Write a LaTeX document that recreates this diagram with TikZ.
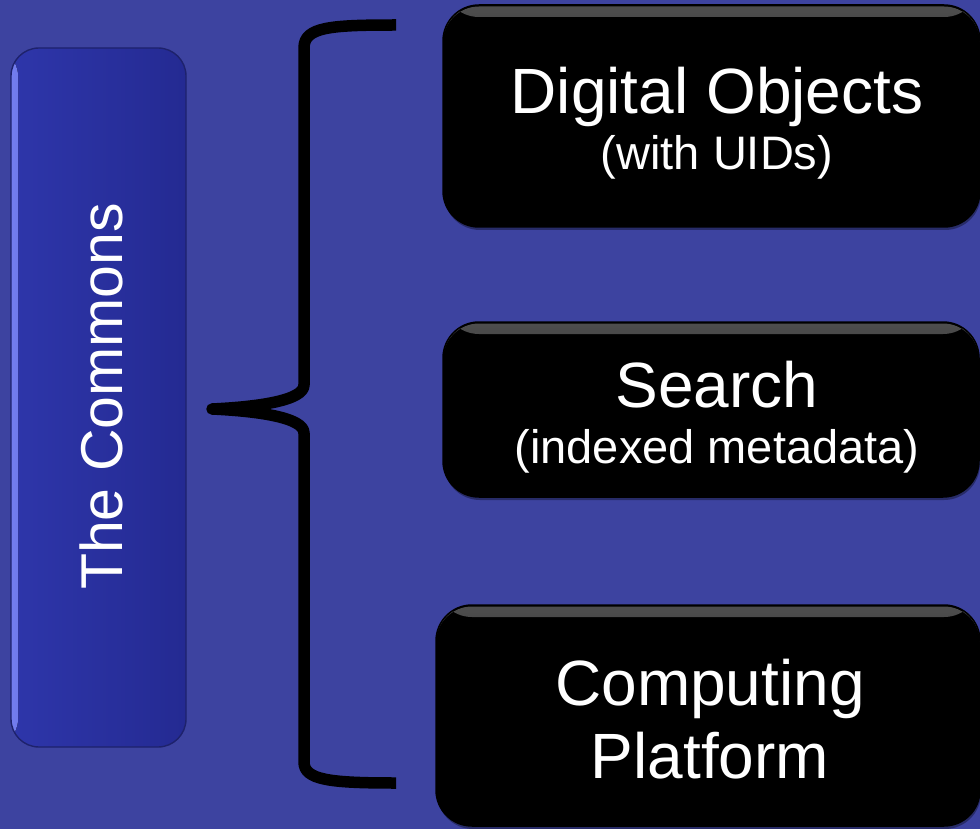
\documentclass[tikz,border=0pt]{standalone}
\usepackage{fontspec}
\setmainfont{Liberation Sans}
\usetikzlibrary{shadows}
\definecolor{bg}{RGB}{61,67,160}
\definecolor{cboxL}{RGB}{46,54,170}
\definecolor{cboxR}{RGB}{36,42,146}
\definecolor{cedge}{RGB}{30,34,108}
\definecolor{chi}{RGB}{115,125,238}
\definecolor{cgray}{RGB}{78,78,78}
\begin{document}
\begin{tikzpicture}[x=1pt,y=-1pt,
  sidebox/.style={rectangle, rounded corners=28pt, left color=cboxL, right color=cboxR,
    draw=cedge, line width=1.4pt, inner sep=0pt,
    path picture={\fill[left color=chi, right color=cboxL]
      (path picture bounding box.north west) rectangle ([xshift=7pt]path picture bounding box.south west);}},
  blackbox/.style={rectangle, rounded corners=36pt, fill=black, draw=black, line width=1.5pt, inner sep=0pt,
    drop shadow={shadow xshift=1pt, shadow yshift=-3pt, fill=black, opacity=.35},
    path picture={\fill[top color=cgray, bottom color=black]
      ([yshift=-1.5pt]path picture bounding box.north west) rectangle ([yshift=-12pt]path picture bounding box.north east);}},
  bigtxt/.style={text=white, font=\fontsize{64}{72}\selectfont, anchor=base, inner sep=0pt},
  smalltxt/.style={text=white, font=\fontsize{47}{54}\selectfont, anchor=base, inner sep=0pt},
  bracestyle/.style={line width=11.5pt, line join=round, line cap=butt, draw=black}
]
\fill[bg] (0,0) rectangle (980,829);
\useasboundingbox (0,0) rectangle (980,829);

% left box
\node[sidebox, minimum width=175pt, minimum height=699pt] (commons) at (98.5,397.5) {};
\node[text=white, font=\fontsize{59}{66}\selectfont, rotate=90, anchor=base, inner sep=0pt]
  (commonstxt) at (122,396.5) {The Commons};

% brace
\coordinate (rt) at (396,25);
\coordinate (tip) at (212,409);
\coordinate (rb) at (396,783);
\draw[bracestyle] (rt) .. controls (330,25) and (304,27) .. (304,48) -- (304,385)
  .. controls (304,401) and (255,407) .. (tip)
  .. controls (255,411) and (304,417) .. (304,433) -- (304,762)
  .. controls (304,780) and (330,783) .. (rb);

% black boxes
\node[blackbox, minimum width=537pt, minimum height=222pt] (b1) at (711.5,116) {};
\node[blackbox, minimum width=536pt, minimum height=175pt] (b2) at (711,409.5) {};
\node[blackbox, minimum width=544pt, minimum height=221pt] (b3) at (708,715.5) {};

\node[bigtxt] (t1a) at (717,114) {Digital Objects};
\node[smalltxt] (t1b) at (717,170) {(with UIDs)};
\node[bigtxt] (t2a) at (717,407) {Search};
\node[smalltxt] (t2b) at (717,463) {(indexed metadata)};
\node[bigtxt] (t3a) at (710,705) {Computing};
\node[bigtxt] (t3b) at (710,778) {Platform};
\end{tikzpicture}
\end{document}
